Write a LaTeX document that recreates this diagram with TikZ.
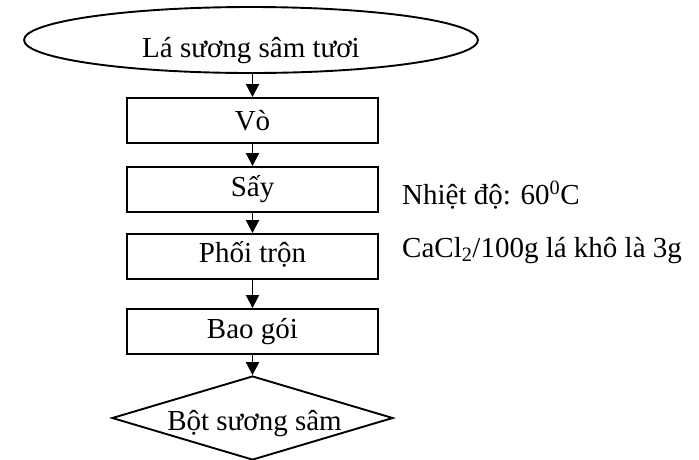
\documentclass[tikz,border=0pt]{standalone}
\usepackage{fontspec}
\setmainfont{Liberation Serif}
\usetikzlibrary{shapes.geometric,arrows.meta}
\begin{document}
\begin{tikzpicture}[x=1pt,y=-1pt,
  every node/.style={font=\fontsize{29}{33}\selectfont},
  shapeline/.style={draw=black,line width=1.9pt,inner sep=0pt},
  stepbox/.style={shapeline,rectangle,minimum width=251pt,minimum height=45pt},
  txt/.style={anchor=base,inner sep=0pt},
  sidetxt/.style={anchor=base west,inner sep=0pt},
  flow/.style={draw=black,line width=1.9pt,-{Triangle[length=13pt,width=13pt]}}]
\useasboundingbox (0,0) rectangle (699,459);
% shapes
\node[shapeline,ellipse,minimum width=454pt,minimum height=66pt] (start) at (251,40) {};
\node[stepbox] (vo) at (252.5,120.5) {};
\node[stepbox] (say) at (252.5,189.5) {};
\node[stepbox] (tron) at (252.5,256.5) {};
\node[stepbox] (bao) at (252.5,331.5) {};
\node[shapeline,diamond,minimum width=281pt,minimum height=84pt] (end) at (252.5,418) {};
% texts
\node[txt] (t0) at (251,57) {Lá sương sâm tươi};
\node[txt] (t1) at (252.5,130) {Vò};
\node[txt] (t2) at (252.5,196) {Sấy};
\node[txt] (t3) at (252.5,262) {Phối trộn};
\node[txt] (t4) at (252.5,338) {Bao gói};
\node[txt] (t5) at (254.5,430) {Bột sương sâm};
\node[sidetxt] (n1) at (402,204) {Nhiệt độ: 60\textsuperscript{0}C};
\node[sidetxt] (n2) at (402,257) {CaCl\textsubscript{2}/100g lá khô là 3g};
% arrows
\draw[flow] (start.south -| vo.north) -- (vo.north);
\draw[flow] (vo) -- (say);
\draw[flow] (say) -- (tron);
\draw[flow] (tron) -- (bao);
\draw[flow] (bao.south) -- (end.north);
\end{tikzpicture}
\end{document}
